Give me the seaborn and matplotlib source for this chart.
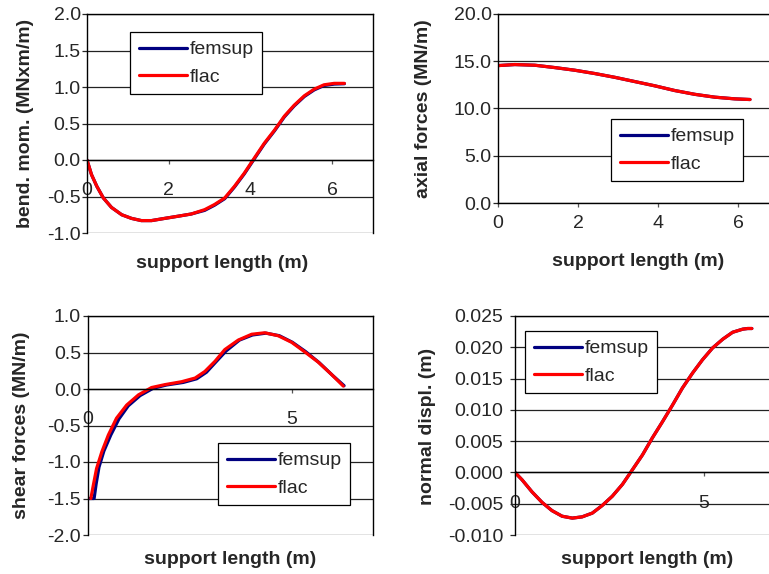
import pandas as pd
import matplotlib
matplotlib.use("Agg")
import matplotlib.pyplot as plt
import seaborn as sns

sns.set_style("white")
plt.rcParams['font.family'] = ['Liberation Sans', 'DejaVu Sans']

series_names = ['femsup', 'flac']
colors = {'femsup': '#000080', 'flac': '#ff0000'}

# bending moment (MNxm/m)
mom_x = [0, 0.11, 0.24, 0.40, 0.60, 0.85, 1.09, 1.33, 1.58, 1.90, 2.23, 2.55, 2.88, 3.12, 3.37,
         3.61, 3.85, 4.10, 4.34, 4.59, 4.83, 5.07, 5.32, 5.56, 5.80, 6.05, 6.30]
mom_femsup = [0, -0.20, -0.36, -0.52, -0.65, -0.75, -0.80, -0.83, -0.83, -0.80, -0.77, -0.74, -0.69, -0.62, -0.53,
              -0.37, -0.19, 0.02, 0.22, 0.40, 0.59, 0.74, 0.87, 0.96, 1.02, 1.04, 1.045]
mom_flac = [0, -0.20, -0.36, -0.52, -0.65, -0.75, -0.80, -0.83, -0.83, -0.80, -0.77, -0.74, -0.68, -0.61, -0.52,
            -0.36, -0.18, 0.03, 0.23, 0.41, 0.60, 0.75, 0.88, 0.97, 1.03, 1.05, 1.05]

# axial forces (MN/m)
ax_x = [0, 0.42, 0.92, 1.42, 1.92, 2.42, 2.92, 3.42, 3.92, 4.42, 4.92, 5.42, 5.92, 6.30]
ax_femsup = [14.54, 14.65, 14.58, 14.33, 14.05, 13.70, 13.30, 12.85, 12.40, 11.90, 11.50, 11.20, 11.02, 10.95]
ax_flac = [14.54, 14.65, 14.58, 14.33, 14.05, 13.70, 13.30, 12.85, 12.40, 11.90, 11.50, 11.20, 11.02, 10.95]

# shear forces (MN/m)
sh_x_femsup = [0.0, 0.15, 0.20, 0.27, 0.39, 0.56, 0.76, 0.99, 1.28, 1.60, 1.93, 2.34, 2.67, 2.91, 3.14, 3.39,
               3.72, 4.04, 4.37, 4.70, 5.02, 5.35, 5.68, 6.00, 6.29]
sh_femsup = [-1.5, -1.5, -1.30, -1.07, -0.85, -0.63, -0.41, -0.23, -0.09, 0.01, 0.055, 0.09, 0.14, 0.23, 0.37, 0.52,
             0.67, 0.74, 0.765, 0.73, 0.64, 0.51, 0.36, 0.19, 0.045]
sh_x_flac = [0.07, 0.13, 0.21, 0.34, 0.50, 0.70, 0.95, 1.24, 1.56, 1.89, 2.30, 2.63, 2.87, 3.12, 3.36, 3.69,
             4.02, 4.34, 4.67, 5.00, 5.32, 5.65, 5.98, 6.27]
sh_flac = [-1.5, -1.32, -1.09, -0.86, -0.63, -0.40, -0.22, -0.08, 0.02, 0.06, 0.10, 0.15, 0.24, 0.38, 0.54, 0.67,
           0.75, 0.77, 0.73, 0.64, 0.51, 0.37, 0.20, 0.04]

# normal displacement (m)
nd_x = [0, 0.19, 0.45, 0.72, 0.98, 1.25, 1.52, 1.78, 2.05, 2.31, 2.58, 2.85, 3.11, 3.38, 3.64, 3.91, 4.18,
        4.44, 4.71, 4.97, 5.24, 5.51, 5.77, 6.04, 6.17, 6.28]
nd_femsup = [0, -0.0012, -0.0031, -0.0048, -0.0061, -0.0070, -0.0073, -0.0071, -0.0065, -0.0053, -0.0038, -0.0019,
             0.0004, 0.0028, 0.0055, 0.0081, 0.0108, 0.0135, 0.0159, 0.0180, 0.0199, 0.0213, 0.0224, 0.0229, 0.0230,
             0.0230]
nd_flac = [0, -0.0012, -0.0031, -0.0048, -0.0061, -0.0070, -0.0073, -0.0071, -0.0065, -0.0053, -0.0038, -0.0019,
           0.0004, 0.0028, 0.0055, 0.0081, 0.0108, 0.0135, 0.0159, 0.0180, 0.0199, 0.0213, 0.0224, 0.0229, 0.0230,
           0.0230]


def long_df(xf, yf, xl, yl):
    a = pd.DataFrame({'x': xf, 'y': yf, 'series': 'femsup'})
    b = pd.DataFrame({'x': xl, 'y': yl, 'series': 'flac'})
    return pd.concat([a, b], ignore_index=True)


W, H = 769, 574
FS = 14
fig = plt.figure(figsize=(W / 100, H / 100), dpi=100)


def px_rect(l, t, r, b):
    return [l / W, 1 - b / H, (r - l) / W, (b - t) / H]


def panel(box, df, ylim, yticks, yfmt, xticks, xpad, ypad, ylab, ylab_xy, xlab_xy, leg_xy):
    ax = fig.add_axes(px_rect(*box))
    sns.lineplot(data=df, x='x', y='y', hue='series', hue_order=series_names,
                 palette=colors, lw=2.3, estimator=None, sort=False, ax=ax)
    ax.set_xlim(0, 7)
    ax.set_ylim(*ylim)
    ax.set_yticks(yticks)
    ax.set_yticklabels([yfmt.format(v) for v in yticks])
    ax.set_xticks(xticks)
    ax.set_xticklabels([str(v) for v in xticks])
    ax.grid(axis='y', color='#222222', lw=0.9)
    ax.grid(axis='x', visible=False)
    for s in ax.spines.values():
        s.set_color('black')
        s.set_linewidth(1.0)
    ax.spines['bottom'].set_position(('data', 0))
    ax.tick_params(axis='y', direction='out', length=3.5, width=0.9, pad=ypad, labelsize=FS, left=True)
    ax.tick_params(axis='x', direction='out', length=3, width=0.9, pad=xpad, labelsize=FS, bottom=True,
                   color='#555555')
    ax.set_xlabel('')
    ax.set_ylabel('')
    fig.text(xlab_xy[0] / W, 1 - xlab_xy[1] / H, 'support length (m)', ha='center', va='center',
             fontsize=FS, fontweight='bold')
    fig.text(ylab_xy[0] / W, 1 - ylab_xy[1] / H, ylab, ha='center', va='center', rotation=90,
             fontsize=FS, fontweight='bold')
    h, l = ax.get_legend_handles_labels()
    leg = ax.legend(h, l, loc='upper left', bbox_to_anchor=(leg_xy[0] / W, 1 - leg_xy[1] / H),
                    bbox_transform=fig.transFigure, borderaxespad=0, fancybox=False,
                    edgecolor='black', framealpha=1, fontsize=FS, handlelength=2.5,
                    handletextpad=0.1, labelspacing=0.5, borderpad=0.45)
    leg.get_frame().set_linewidth(0.9)
    for line in leg.get_lines():
        line.set_linewidth(2.3)
    return ax


panel((87, 14, 373, 233), long_df(mom_x, mom_femsup, mom_x, mom_flac),
      (-1.0, 2.0), [-1.0, -0.5, 0.0, 0.5, 1.0, 1.5, 2.0], '{:.1f}', [0, 2, 4, 6], 13, 1,
      'bend. mom. (MNxm/m)', (25, 123), (222, 263), (130, 32))

panel((498, 14, 778, 203), long_df(ax_x, ax_femsup, ax_x, ax_flac),
      (0, 20), [0, 5, 10, 15, 20], '{:.1f}', [0, 2, 4, 6], 6, 1,
      'axial forces (MN/m)', (423, 109), (638, 262), (611, 119))

panel((88, 316, 373, 535), long_df(sh_x_femsup, sh_femsup, sh_x_flac, sh_flac),
      (-2.0, 1.0), [-2.0, -1.5, -1.0, -0.5, 0.0, 0.5, 1.0], '{:.1f}', [0, 5], 13, 1.5,
      'shear forces (MN/m)', (22, 425), (230, 560), (218, 443))

panel((515, 316, 779, 535), long_df(nd_x, nd_femsup, nd_x, nd_flac),
      (-0.010, 0.025), [-0.010, -0.005, 0.0, 0.005, 0.010, 0.015, 0.020, 0.025], '{:.3f}', [0, 5], 13, 5,
      'normal displ. (m)', (427, 426), (647, 560), (525, 331))

fig.savefig('out.png', dpi=100)
